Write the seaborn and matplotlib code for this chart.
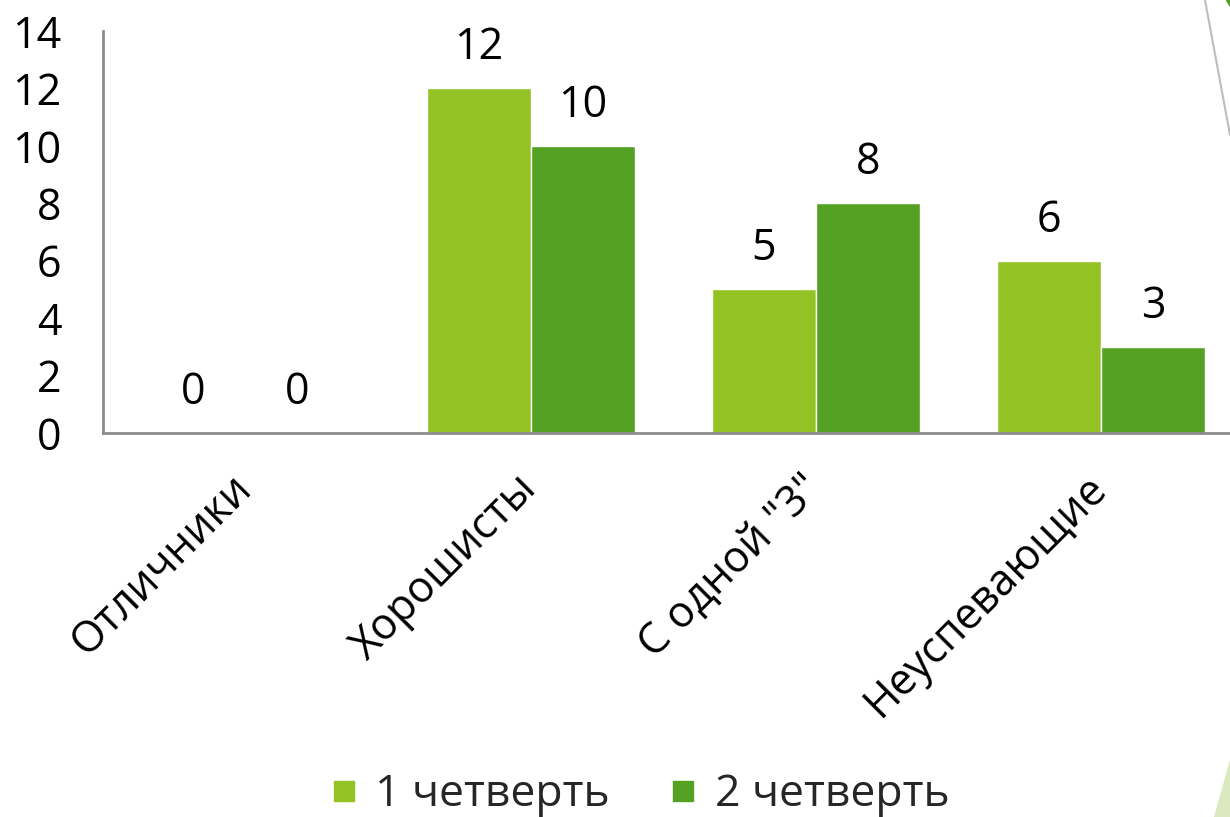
import matplotlib
matplotlib.use("Agg")
import matplotlib.pyplot as plt
import matplotlib.transforms as mtransforms
import seaborn as sns
import pandas as pd
from matplotlib.patches import Polygon
from matplotlib.lines import Line2D

categories = ["Отличники", "Хорошисты", "С одной \"3\"", "Неуспевающие"]
series_names = ["1 четверть", "2 четверть"]
q1_values = [0, 12, 5, 6]
q2_values = [0, 10, 8, 3]
yticks = [0, 2, 4, 6, 8, 10, 12, 14]

df = pd.DataFrame({
    "cat": categories * 2,
    "series": [series_names[0]] * 4 + [series_names[1]] * 4,
    "value": q1_values + q2_values,
})

sns.set_theme(style="white")
plt.rcParams['font.family'] = ['Open Sans', 'DejaVu Sans']

fig = plt.figure(figsize=(12.3, 8.17), dpi=100)
ax = fig.add_axes([103 / 1230, 1 - 433 / 817, (1243.5 - 103) / 1230, (433 - 31) / 817])

palette = ["#93C225", "#55A124"]
sns.barplot(data=df, x="cat", y="value", hue="series", palette=palette,
            width=0.73, saturation=1, ax=ax, legend=False)

for c in ax.containers:
    ax.bar_label(c, fmt="%d", padding=13, fontsize=31, color="black")

ax.set_ylim(0, 14)
ax.set_yticks(yticks)
ax.set_xlim(-0.5, 3.5)
ax.set_xlabel("")
ax.set_ylabel("")
ax.tick_params(axis="y", length=0, pad=30, labelsize=31, labelcolor="black")
ax.tick_params(axis="x", length=0, pad=24, labelsize=31, labelcolor="black")
offset = mtransforms.ScaledTranslation(-16 / 100, 0, fig.dpi_scale_trans)
for lbl in ax.get_xticklabels():
    lbl.set_rotation(45)
    lbl.set_ha("right")
    lbl.set_rotation_mode("anchor")
    lbl.set_transform(lbl.get_transform() + offset)
for s in ["top", "right"]:
    ax.spines[s].set_visible(False)
for s in ["left", "bottom"]:
    ax.spines[s].set_color("#8c8c8c")
    ax.spines[s].set_linewidth(2)
    ax.spines[s].set_clip_on(False)

handles = [Line2D([0], [0], marker="s", linestyle="", markersize=15,
                  markerfacecolor=col, markeredgecolor=col) for col in palette]
fig.legend(handles, series_names, loc="center", bbox_to_anchor=(639 / 1230, 1 - 795 / 817),
           ncol=2, frameon=False, fontsize=32, handletextpad=0.35, columnspacing=1.3,
           handlelength=0.7)

# decorative corner shapes
fig.add_artist(Line2D([1205 / 1230, 1230 / 1230], [1, 1 - 135 / 817],
                      transform=fig.transFigure, color="#bdbdbd", linewidth=1.5))
fig.add_artist(Polygon([[1226 / 1230, 1], [1230 / 1230, 1], [1230 / 1230, 1 - 6 / 817]],
                       closed=True, transform=fig.transFigure, color="#55A124"))
fig.add_artist(Polygon([[1214 / 1230, 0], [1230 / 1230, 0], [1230 / 1230, 1 - 760 / 817]],
                       closed=True, transform=fig.transFigure, color="#dbe9c0"))

fig.savefig("out.png", dpi=100)
